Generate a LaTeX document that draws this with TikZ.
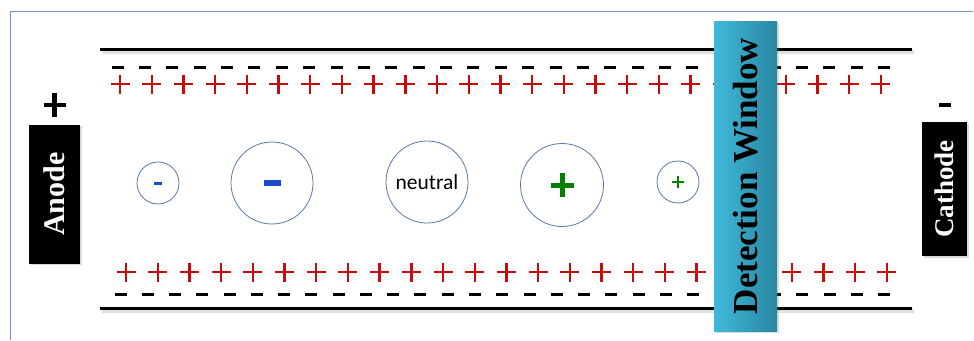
\documentclass[tikz,border=0pt]{standalone}
\usepackage{fontspec}
\setmainfont{Liberation Serif}
\newfontfamily\calibfont{Carlito}
\usetikzlibrary{shadows}
\definecolor{plusred}{RGB}{200,10,10}
\definecolor{framebl}{RGB}{110,145,215}
\definecolor{circbl}{RGB}{90,120,170}
\definecolor{ionblue}{RGB}{25,75,205}
\definecolor{iongreen}{RGB}{0,128,0}
\definecolor{winL}{RGB}{64,185,218}
\definecolor{winR}{RGB}{40,135,162}
\begin{document}
\begin{tikzpicture}[x=1pt,y=-1pt,
  wall/.style={line width=3pt,black},
  wallshadow/.style={line width=4pt,black,opacity=0.12},
  dashmark/.style={line width=3pt,black},
  plusmark/.style={line width=2.4pt,plusred},
  ion/.style={circle,draw=circbl,line width=0.8pt,inner sep=0pt},
  electrode/.style={fill=black,text=white,inner sep=0pt,
    drop shadow={shadow xshift=1.5pt,shadow yshift=-1.5pt,opacity=0.3}},
  window/.style={left color=winL,right color=winR,inner sep=0pt,
    minimum width=63pt,minimum height=310pt,
    drop shadow={shadow xshift=1.5pt,shadow yshift=-1.5pt,opacity=0.25}}]
\useasboundingbox (0,0) rectangle (974,340);
% frame
\draw[framebl,line width=1pt] (973,11) -- (10,11) -- (10,340);
% walls
\coordinate (tl) at (100,49); \coordinate (tr) at (912,49);
\coordinate (bl) at (100,308); \coordinate (br) at (912,308);
\draw[wallshadow] ([shift={(1.5,2.5)}]tl) -- ([shift={(1.5,2.5)}]tr);
\draw[wallshadow] ([shift={(1.5,2.5)}]bl) -- ([shift={(1.5,2.5)}]br);
\draw[wall] (tl) -- (tr);
\draw[wall] (bl) -- (br);
% dashes
\foreach \i in {0,...,28}{
  \draw[dashmark] ({117.5+27.375*\i-6},67) -- ++(12,0);
  \draw[dashmark] ({120.5+27.27*\i-6},294) -- ++(12,0);
}
% pluses
\foreach \i in {0,...,24}{
  \draw[plusmark] ({120+31.7*\i-9.5},84) -- ++(19,0) ({120+31.7*\i},74.5) -- ++(0,19);
  \draw[plusmark] ({126+31.7*\i-9.5},272) -- ++(19,0) ({126+31.7*\i},262.5) -- ++(0,19);
}
% ions
\node[ion,minimum size=42pt] (c1) at (158,183) {};
\draw[ionblue,line width=3pt] ([xshift=-4pt]c1.center) -- ([xshift=4pt]c1.center);
\node[ion,minimum size=82pt] (c2) at (272,183) {};
\draw[ionblue,line width=6pt] ([xshift=-8.5pt]c2.center) -- ([xshift=8.5pt]c2.center);
\node[ion,minimum size=82pt,font=\calibfont\fontsize{21.5}{21.5}\selectfont] (c3) at (427,182) {neutral};
\node[ion,minimum size=83pt] (c4) at (562,185) {};
\draw[iongreen,line width=5pt] ([xshift=-11.5pt]c4.center) -- ([xshift=11.5pt]c4.center)
  ([yshift=-12pt]c4.center) -- ([yshift=12pt]c4.center);
\node[ion,minimum size=42pt] (c5) at (678,182) {};
\draw[iongreen,line width=2pt] ([xshift=-6pt]c5.center) -- ([xshift=6pt]c5.center)
  ([yshift=-6pt]c5.center) -- ([yshift=6pt]c5.center);
% detection window
\node[window,font=\bfseries\fontsize{35}{35}\selectfont] (win) at (745.5,176) {\rotatebox{90}{Detection Window}};
% electrodes
\node[electrode,minimum width=51pt,minimum height=139pt,font=\bfseries\fontsize{30}{30}\selectfont] (anode) at (54.5,194) {\rotatebox{90}{Anode}};
\draw[black,line width=4.5pt] ([shift={(-11,-89)}]anode.center) -- ++(22,0)
  ([shift={(0,-101)}]anode.center) -- ++(0,24);
\node[electrode,minimum width=45pt,minimum height=134pt,font=\bfseries\fontsize{27}{27}\selectfont] (cathode) at (944.5,189) {\rotatebox{90}{Cathode}};
\draw[black,line width=4.5pt] ([shift={(-5.5,-84)}]cathode.center) -- ++(12,0);
\end{tikzpicture}
\end{document}
